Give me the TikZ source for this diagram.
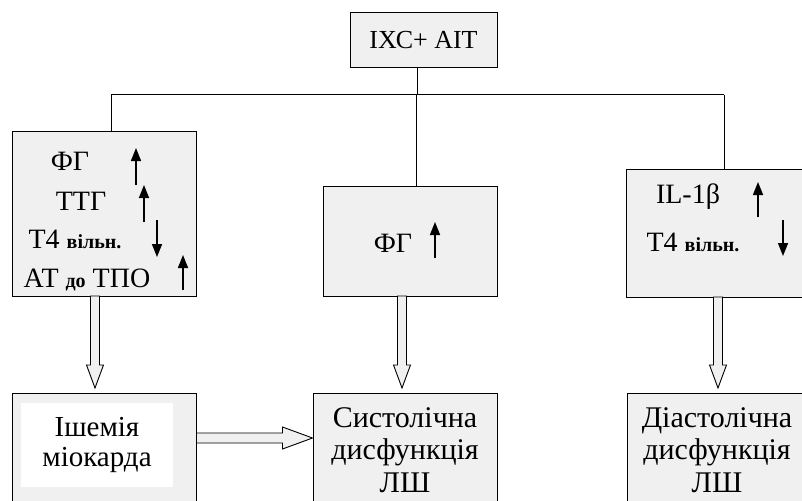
\documentclass[tikz,border=0pt]{standalone}
\usepackage{fontspec}
\setmainfont{Liberation Serif}
\usetikzlibrary{arrows.meta,calc}
\definecolor{boxfill}{HTML}{F0F0F0}
\newcommand\smbold{\fontsize{20}{22}\selectfont\bfseries}
\newcommand\vblk[2]{% vertical hollow block arrow from #1 (top) to #2 (tip)
  \path[blk] let \p1=(#1), \p2=(#2) in
    (\x1-4.5pt,\y1) -- (\x1-4.5pt,\y2+23pt) -- (\x1-8.5pt,\y2+23pt) -- (\x1,\y2)
    -- (\x1+8.5pt,\y2+23pt) -- (\x1+4.5pt,\y2+23pt) -- (\x1+4.5pt,\y1) -- cycle;}
\newcommand\hblk[2]{% horizontal hollow block arrow from #1 to #2 (tip)
  \path[blk] let \p1=(#1), \p2=(#2) in
    (\x1,\y1+5pt) -- (\x2-30pt,\y1+5pt) -- (\x2-30pt,\y1+11pt) -- (\x2,\y1)
    -- (\x2-30pt,\y1-11pt) -- (\x2-30pt,\y1-5pt) -- (\x1,\y1-5pt) -- cycle;}
\begin{document}
\begin{tikzpicture}[x=1pt,y=-1pt,
  box/.style={draw=black,line width=1pt,fill=boxfill,inner sep=0pt},
  txt/.style={font=\fontsize{28}{30}\selectfont,inner sep=0pt,anchor=base},
  big/.style={font=\fontsize{30}{32.5}\selectfont,inner sep=0pt,align=center},
  updn/.style={line width=1.5pt,-{Triangle[length=13pt,width=10pt]}},
  conn/.style={line width=1pt},
  blk/.style={draw=black,line width=0.9pt,fill=boxfill}]
\useasboundingbox (0,0) rectangle (802,500);
\fill[white] (0,0) rectangle (802,500);
\begin{scope}
\clip (0,0) rectangle (802,500);
% top box
\node[box,minimum width=147pt,minimum height=55pt,font=\fontsize{26}{30}\selectfont] (top) at (423.5,40.5) {ІХС+ АІТ};
% upper boxes
\node[box,minimum width=184pt,minimum height=165pt] (lt) at (104,213.5) {};
\node[box,minimum width=174pt,minimum height=110pt] (mt) at (410,241) {};
\node[box,minimum width=190pt,minimum height=128pt] (rt) at (721,233) {};
% lower boxes
\node[box,minimum width=184pt,minimum height=130pt] (lb) at (104,458) {};
\node[box,minimum width=184pt,minimum height=130pt] (mb) at (405,458) {};
\node[box,minimum width=190pt,minimum height=130pt] (rb) at (722,458) {};
\node[fill=white,minimum width=152pt,minimum height=84pt,big,font=\fontsize{29}{29.5}\selectfont] (isch) at (97,445) {Ішемія\\міокарда};
\node[big] (sys) at (405,450) {Систолічна\\дисфункція\\ЛШ};
\node[big] (dia) at (717,450) {Діастолічна\\дисфункція\\ЛШ};
% connectors
\coordinate (j) at (417,95);
\coordinate (cl) at (111,95);
\coordinate (cm) at (416,95);
\coordinate (cr) at (724,95);
\draw[conn] (j |- top.south) -- (j);
\draw[conn] (cl) -- (cr);
\draw[conn] (cl) -- (cl |- lt.north);
\draw[conn] (cm) -- (cm |- mt.north);
\draw[conn] (cr) -- (cr |- rt.north);
% left box texts
\node[txt] (l1) at (70,170) {ФГ};
\node[txt] (l2) at (81,210) {ТТГ};
\node[txt] (l3) at (75,248) {Т4 {\smbold вільн.}};
\node[txt] (l4) at (87,287) {АТ {\smbold до} ТПО};
\coordinate (a1s) at (136,185); \coordinate (a1e) at (136,148);
\coordinate (a2s) at (144,222); \coordinate (a2e) at (144,185);
\coordinate (a3s) at (157,220); \coordinate (a3e) at (157,257);
\coordinate (a4s) at (183,290); \coordinate (a4e) at (183,255);
\draw[updn] (a1s) -- (a1e);
\draw[updn] (a2s) -- (a2e);
\draw[updn] (a3s) -- (a3e);
\draw[updn] (a4s) -- (a4e);
% middle box text
\node[txt] (m1) at (393,252) {ФГ};
\coordinate (a5s) at (435,258); \coordinate (a5e) at (435,222);
\draw[updn] (a5s) -- (a5e);
% right box texts
\node[txt] (r1) at (688,203) {IL-1β};
\node[txt] (r2) at (693,251) {Т4 {\smbold вільн.}};
\coordinate (a6s) at (758,217); \coordinate (a6e) at (758,182);
\coordinate (a7s) at (783,220); \coordinate (a7e) at (783,256);
\draw[updn] (a6s) -- (a6e);
\draw[updn] (a7s) -- (a7e);
% block arrows
\coordinate (b1) at (95,296); \coordinate (b1t) at (95,388);
\coordinate (b2) at (402,296); \coordinate (b2t) at (402,388);
\coordinate (b3) at (718,297); \coordinate (b3t) at (718,388);
\vblk{b1}{b1t}
\vblk{b2}{b2t}
\vblk{b3}{b3t}
\coordinate (h1) at (lb.east |- 0,438); \coordinate (h1t) at (mb.west |- 0,438);
\hblk{h1}{h1t}
\end{scope}
\end{tikzpicture}
\end{document}
